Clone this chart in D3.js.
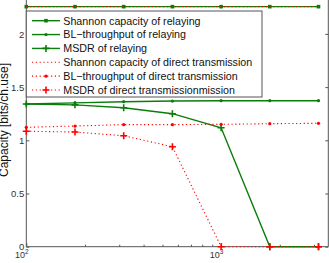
<!DOCTYPE html>
<html>
<head>
<meta charset="utf-8">
<script src="https://cdn.jsdelivr.net/npm/d3@7"></script>
<style>
body { margin: 0; background: #fff; }
svg { display: block; font-family: "Liberation Sans", Arial, Helvetica, sans-serif; }
.axis text { fill: #333; font-size: 9.5px; }
.axis line, .axis path { stroke: #555; }
.legend text { font-size: 10.7px; fill: #111; }
</style>
</head>
<body>
<div id="chart"></div>
<script>
// x positions (number of something, log axis)
var xVals = [100, 177.8, 316.2, 562.3, 1000, 1778, 3162];

var shannonRelay = [2.256, 2.256, 2.256, 2.256, 2.256, 2.256, 2.256];
var blRelay = [1.341, 1.352, 1.363, 1.369, 1.372, 1.372, 1.372];
var msdrRelay = [1.341, 1.333, 1.306, 1.25, 1.118, 0, 0];
var shannonDirect = [2.255, 2.255, 2.255, 2.255, 2.255, 2.255, 2.255];
var blDirect = [1.122, 1.134, 1.147, 1.147, 1.150, 1.156, 1.160];
var msdrDirect = [1.085, 1.078, 1.043, 0.94, 0, 0, 0];

var seriesNames = [
    "Shannon capacity of relaying",
    "BL\u2212throughput of relaying",
    "MSDR of relaying",
    "Shannon capacity of direct transmission",
    "BL\u2212throughput of direct transmission",
    "MSDR of direct transmissionmission"
];
var yTicks = [0, 0.5, 1, 1.5, 2];
var xMajor = [100, 1000];

var W = 329, H = 263;
var green = "#0a7d0a", red = "#ff0000";

var series = [
    {name: seriesNames[0], values: shannonRelay, color: green, dash: null, marker: "square"},
    {name: seriesNames[1], values: blRelay, color: green, dash: null, marker: "dot"},
    {name: seriesNames[2], values: msdrRelay, color: green, dash: null, marker: "plus"},
    {name: seriesNames[3], values: shannonDirect, color: red, dash: "1.2,2.6", marker: null},
    {name: seriesNames[4], values: blDirect, color: red, dash: "1.2,2.6", marker: "dot"},
    {name: seriesNames[5], values: msdrDirect, color: red, dash: "1.2,2.6", marker: "plus"}
];

var x = d3.scaleLog().domain([100, 3550]).range([26.3, 328.3]);
var y = d3.scaleLinear().domain([0, 2]).range([246.7, 33.9]);

var svg = d3.select("#chart").append("svg")
    .attr("width", W)
    .attr("height", H);

// axis frame (top edge lies above the picture)
svg.append("path")
    .attr("d", "M" + x.range()[0] + ",0V" + y(0) + "H" + x.range()[1] + "V0")
    .attr("fill", "none")
    .attr("stroke", "#555")
    .attr("stroke-width", 1);

// y axis, ticks inward on both sides
var yAxis = svg.append("g")
    .attr("class", "axis")
    .attr("transform", "translate(" + x.range()[0] + ",0)")
    .call(d3.axisLeft(y).tickValues(yTicks).tickSize(-3).tickPadding(2).tickFormat(d3.format("")));
yAxis.select(".domain").remove();
yAxis.selectAll("text").attr("dy", "0.34em");

var yAxisR = svg.append("g")
    .attr("class", "axis")
    .attr("transform", "translate(" + x.range()[1] + ",0)")
    .call(d3.axisRight(y).tickValues(yTicks).tickSize(-3).tickFormat(""));
yAxisR.select(".domain").remove();

// x axis ticks: minor + major
var minor = [];
[100, 1000].forEach(function (d) {
    for (var k = 2; k <= 9; k++) if (d * k < 3550) minor.push(d * k);
});
var xAxisMinor = svg.append("g")
    .attr("class", "axis")
    .attr("transform", "translate(0," + y(0) + ")")
    .call(d3.axisBottom(x).tickValues(minor).tickSize(-2).tickFormat(""));
xAxisMinor.select(".domain").remove();
var xAxisMajor = svg.append("g")
    .attr("class", "axis")
    .attr("transform", "translate(0," + y(0) + ")")
    .call(d3.axisBottom(x).tickValues(xMajor).tickSize(-3.5).tickFormat(""));
xAxisMajor.select(".domain").remove();

// x labels as 10^n
xMajor.forEach(function (d) {
    var t = svg.append("text")
        .attr("x", x(d) - 4.5)
        .attr("y", y(0) + 11.5)
        .attr("text-anchor", "middle")
        .attr("fill", "#333")
        .attr("font-size", "9px");
    t.append("tspan").text("10");
    t.append("tspan").attr("dy", "-4").attr("font-size", "6.5px").text(Math.round(Math.log10(d)));
});

// y label
svg.append("text")
    .attr("transform", "translate(8," + 120 + ") rotate(-90)")
    .attr("text-anchor", "middle")
    .attr("font-size", "12px")
    .attr("fill", "#111")
    .text("Capacity [bits/ch.use]");

var line = d3.line()
    .x(function (d, i) { return x(xVals[i]); })
    .y(function (d) { return y(d); });

function drawMarker(g, type, color, cx, cy) {
    if (type === "square") {
        g.append("rect").attr("x", cx - 1.8).attr("y", cy - 1.8)
            .attr("width", 3.6).attr("height", 3.6).attr("fill", color);
    } else if (type === "dot") {
        g.append("circle").attr("cx", cx).attr("cy", cy).attr("r", 1.6).attr("fill", color);
    } else if (type === "plus") {
        g.append("path")
            .attr("d", "M" + (cx - 3.5) + "," + cy + "H" + (cx + 3.5) + "M" + cx + "," + (cy - 3.5) + "V" + (cy + 3.5))
            .attr("stroke", color).attr("stroke-width", 1.6).attr("fill", "none");
    }
}

var plot = svg.append("g");
series.forEach(function (s) {
    var g = plot.append("g");
    g.append("path")
        .datum(s.values)
        .attr("d", line)
        .attr("fill", "none")
        .attr("stroke", s.color)
        .attr("stroke-width", s.dash ? 1.1 : 1.4)
        .attr("stroke-dasharray", s.dash);
    if (s.marker) {
        s.values.forEach(function (v, i) {
            drawMarker(g, s.marker, s.color, x(xVals[i]), y(v));
        });
    }
});

// legend
var legend = svg.append("g").attr("class", "legend");
legend.append("rect")
    .attr("x", 26.3).attr("y", 11)
    .attr("width", 235.7).attr("height", 86)
    .attr("fill", "#fff")
    .attr("stroke", "#555");
series.forEach(function (s, i) {
    var cy = 20.7 + i * 13.86;
    legend.append("line")
        .attr("x1", 32).attr("x2", 60).attr("y1", cy).attr("y2", cy)
        .attr("stroke", s.color)
        .attr("stroke-width", s.dash ? 1.1 : 1.4)
        .attr("stroke-dasharray", s.dash);
    if (s.marker) drawMarker(legend, s.marker, s.color, 46, cy);
    legend.append("text")
        .attr("x", 63.3).attr("y", cy + 3.9)
        .text(s.name);
});
</script>
</body>
</html>
